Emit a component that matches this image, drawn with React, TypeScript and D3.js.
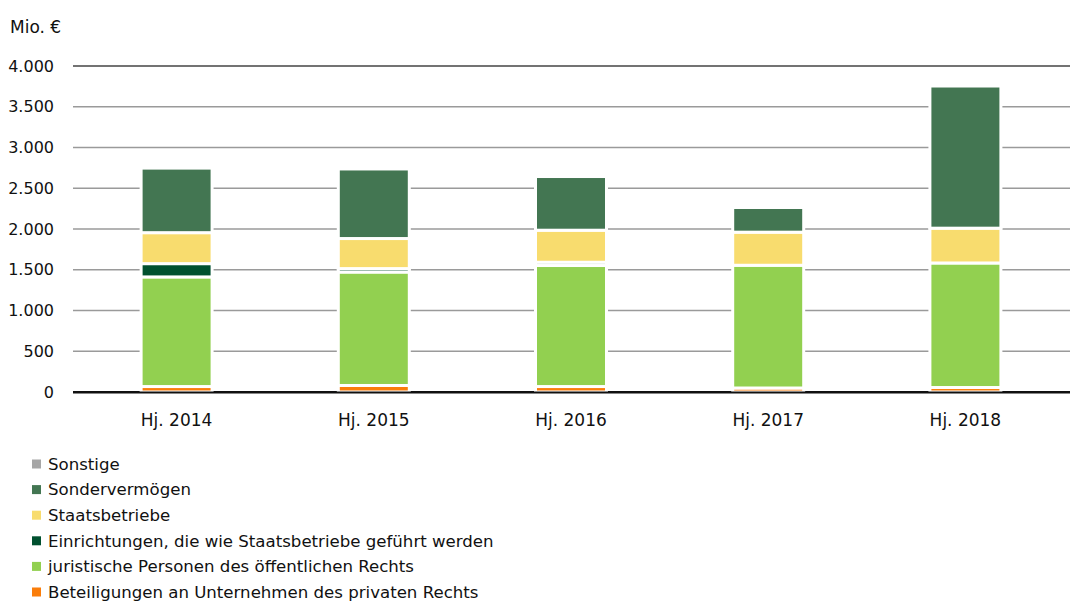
import * as d3 from 'd3'
import { useEffect, useRef } from 'react'

const years = ['Hj. 2014', 'Hj. 2015', 'Hj. 2016', 'Hj. 2017', 'Hj. 2018']

// stack order, bottom to top
const beteiligungen = [67, 80, 67, 49, 55]
const juristische = [1345, 1392, 1485, 1506, 1528]
const einrichtungen = [163, 42, 40, 0, 0]
const staatsbetriebe = [380, 369, 393, 406, 427]
const sondervermoegen = [795, 856, 659, 303, 1747]
const sonstige = [2, 2, 2, 2, 2]

const seriesNames = [
  'Beteiligungen an Unternehmen des privaten Rechts',
  'juristische Personen des öffentlichen Rechts',
  'Einrichtungen, die wie Staatsbetriebe geführt werden',
  'Staatsbetriebe',
  'Sondervermögen',
  'Sonstige',
]
const seriesValues = [beteiligungen, juristische, einrichtungen, staatsbetriebe, sondervermoegen, sonstige]
const colors = ['#fa7d0a', '#92d050', '#00502f', '#f8dc6e', '#437652', '#a6a6a6']

const yTicks = [0, 500, 1000, 1500, 2000, 2500, 3000, 3500, 4000]
const font = '"DejaVu Sans", sans-serif'

const App = () => {
  const svgRef = useRef<SVGSVGElement>(null)

  useEffect(() => {
    const svg = d3.select(svgRef.current)
    svg.selectAll('*').remove()

    const rows = years.map((y, i) => {
      const r: any = { year: y }
      seriesNames.forEach((n, j) => (r[n] = seriesValues[j][i]))
      return r
    })
    const stacked = d3.stack().keys(seriesNames)(rows)

    const x = d3.scaleBand().domain(years).range([78, 1064]).paddingInner(0.64).paddingOuter(0.32)
    const y = d3.scaleLinear().domain([0, 4000]).range([392, 66])

    // grid
    svg
      .append('g')
      .selectAll('line')
      .data(yTicks)
      .join('line')
      .attr('x1', 73)
      .attr('x2', 1070)
      .attr('y1', (d) => y(d))
      .attr('y2', (d) => y(d))
      .attr('stroke', (d) => (d === 4000 ? '#444' : d === 0 ? '#111' : '#9a9a9a'))
      .attr('stroke-width', (d) => (d === 0 ? 2 : 1.3))

    svg
      .append('g')
      .selectAll('text')
      .data(yTicks)
      .join('text')
      .attr('x', 54)
      .attr('y', (d) => y(d))
      .attr('dy', '0.35em')
      .attr('text-anchor', 'end')
      .style('font-family', font)
      .style('font-size', '16px')
      .attr('fill', '#111')
      .text((d) => d3.format(',')(d).replace(/,/g, '.'))

    svg
      .append('text')
      .attr('x', 10)
      .attr('y', 27)
      .attr('dy', '0.35em')
      .style('font-family', font)
      .style('font-size', '17px')
      .attr('fill', '#111')
      .text('Mio. €')

    // bars
    svg
      .append('g')
      .selectAll('g')
      .data(stacked)
      .join('g')
      .attr('fill', (d, i) => colors[i])
      .selectAll('rect')
      .data((d) => d)
      .join('rect')
      .attr('x', (d: any) => x(d.data.year)!)
      .attr('width', x.bandwidth())
      .attr('y', (d) => y(d[1]))
      .attr('height', (d) => Math.max(0, y(d[0]) - y(d[1])))
      .attr('stroke', '#fff')
      .attr('stroke-width', 3)

    // baseline on top
    svg
      .append('line')
      .attr('x1', 73)
      .attr('x2', 1070)
      .attr('y1', y(0) + 0.5)
      .attr('y2', y(0) + 0.5)
      .attr('stroke', '#111')
      .attr('stroke-width', 2)

    // x labels
    svg
      .append('g')
      .selectAll('text')
      .data(years)
      .join('text')
      .attr('x', (d) => x(d)! + x.bandwidth() / 2)
      .attr('y', 420)
      .attr('dy', '0.35em')
      .attr('text-anchor', 'middle')
      .style('font-family', font)
      .style('font-size', '17px')
      .attr('fill', '#111')
      .text((d) => d)

    // legend, reversed order
    const legend = svg
      .append('g')
      .selectAll('g')
      .data(seriesNames.slice().reverse())
      .join('g')
      .attr('transform', (d, i) => `translate(32, ${464 + i * 25.6})`)
    legend
      .append('rect')
      .attr('x', 0)
      .attr('y', -4.5)
      .attr('width', 9)
      .attr('height', 9)
      .attr('fill', (d) => colors[seriesNames.indexOf(d)])
    legend
      .append('text')
      .attr('x', 16)
      .attr('y', 0)
      .attr('dy', '0.35em')
      .style('font-family', font)
      .style('font-size', '16.6px')
      .attr('fill', '#111')
      .text((d) => d)
  }, [])

  return (
    <svg
      ref={svgRef}
      width={1070}
      height={603}
      style={{ position: 'absolute', left: 0, top: 0, background: '#fff' }}
    ></svg>
  )
}
export default App
